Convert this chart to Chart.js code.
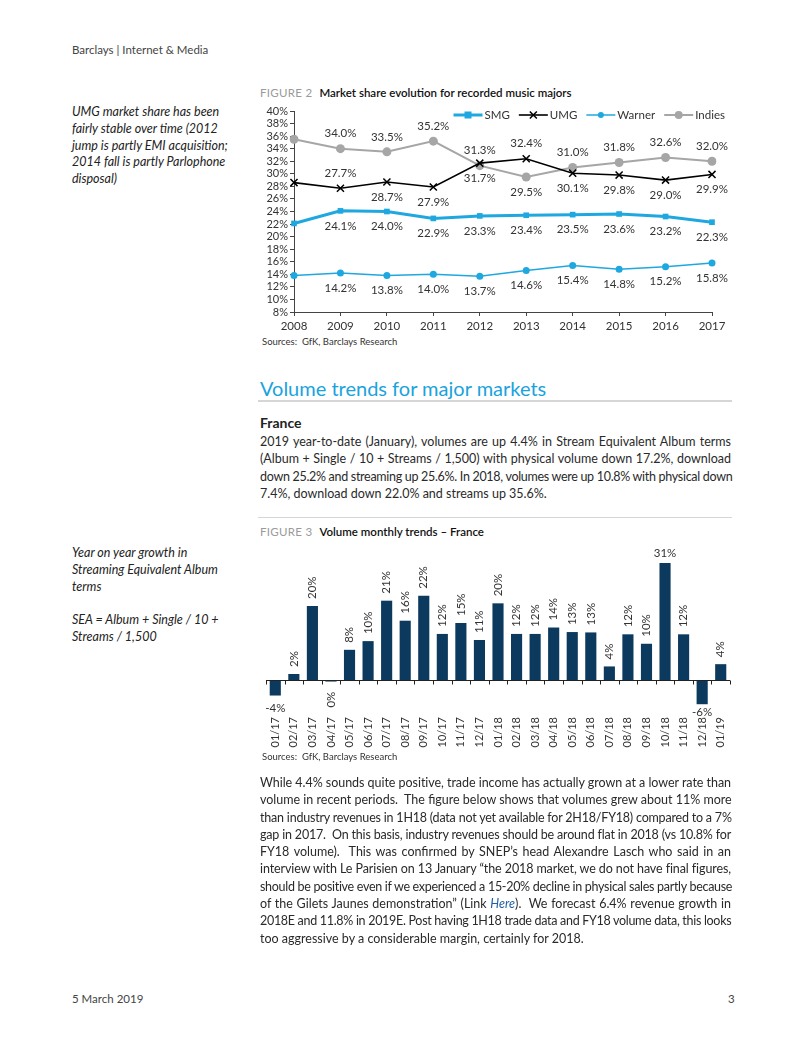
<!DOCTYPE html>
<html>
<head>
<meta charset="utf-8">
<script src="https://cdn.jsdelivr.net/npm/chart.js@4.4.1/dist/chart.umd.min.js"></script>
<style>
  html, body { margin: 0; padding: 0; background: #fff; }
  body { width: 802px; height: 1037px; position: relative; font-family: Lato, "Open Sans", sans-serif; color: #222; overflow: hidden; }
  .abs { position: absolute; }
  .hdr { left: 72px; top: 43px; font-size: 11.5px; color: #444; }
  .side { left: 72px; width: 180px; font-size: 12.5px; font-style: italic; line-height: 16.8px; color: #222; }
  .figt { left: 260px; font-size: 11.5px; line-height: 15px; white-space: nowrap; }
  .figt .n { color: #9a9a9a; letter-spacing: 0.3px; margin-right: 7px; }
  .figt .t { color: #111; font-weight: 600; }
  .src { left: 262px; font-size: 9.5px; color: #333; }
  .rule { left: 258px; width: 474px; background: #d6d6d6; }
  .para { left: 260px; width: 471px; font-size: 12.5px; line-height: 17.3px; color: #2a2a2a; }
  .para div { white-space: nowrap; }
  .para .j { text-align: justify; text-align-last: justify; }
  h2 { margin: 0; font-weight: 400; font-size: 20px; line-height: 24px; color: #1aa3dd; }
  h3 { margin: 0; font-weight: 700; font-size: 14px; line-height: 18px; color: #222; }
  .foot { top: 992px; font-size: 11.5px; color: #444; }
</style>
</head>
<body>

<div class="abs hdr">Barclays | Internet &amp; Media</div>

<div class="abs side" style="top:104px">UMG market share has been<br>fairly stable over time (2012<br>jump is partly EMI acquisition;<br>2014 fall is partly Parlophone<br>disposal)</div>

<div class="abs figt" style="top:85px"><span class="n">FIGURE 2</span><span class="t">Market share evolution for recorded music majors</span></div>
<canvas id="share" class="abs" width="480" height="232" style="left:258px;top:100px"></canvas>
<div class="abs src" style="top:336px">Sources:&nbsp; GfK, Barclays Research</div>

<h2 class="abs" style="left:260px;top:376px">Volume trends for major markets</h2>
<div class="abs rule" style="top:400px;height:2px"></div>
<h3 class="abs" style="left:260px;top:414px">France</h3>

<div class="abs para" style="top:433px">
  <div class="j">2019 year-to-date (January), volumes are up 4.4% in Stream Equivalent Album terms</div>
  <div class="j">(Album + Single / 10 + Streams / 1,500) with physical volume down 17.2%, download</div>
  <div class="j">down 25.2% and streaming up 25.6%. In 2018, volumes were up 10.8% with physical down</div>
  <div>7.4%, download down 22.0% and streams up 35.6%.</div>
</div>

<div class="abs rule" style="top:517px;height:1px"></div>
<div class="abs figt" style="top:524px"><span class="n">FIGURE 3</span><span class="t">Volume monthly trends – France</span></div>

<div class="abs side" style="top:545px">Year on year growth in<br>Streaming Equivalent Album<br>terms<br><br>SEA = Album + Single / 10 +<br>Streams / 1,500</div>

<canvas id="volume" class="abs" width="480" height="220" style="left:258px;top:540px"></canvas>
<div class="abs src" style="top:751px">Sources:&nbsp; GfK, Barclays Research</div>

<div class="abs para" style="top:774px">
  <div class="j">While 4.4% sounds quite positive, trade income has actually grown at a lower rate than</div>
  <div class="j">volume in recent periods.&nbsp; The figure below shows that volumes grew about 11% more</div>
  <div class="j">than industry revenues in 1H18 (data not yet available for 2H18/FY18) compared to a 7%</div>
  <div class="j">gap in 2017.&nbsp; On this basis, industry revenues should be around flat in 2018 (vs 10.8% for</div>
  <div class="j">FY18 volume).&nbsp; This was confirmed by SNEP’s head Alexandre Lasch who said in an</div>
  <div class="j">interview with Le Parisien on 13 January “the 2018 market, we do not have final figures,</div>
  <div class="j">should be positive even if we experienced a 15-20% decline in physical sales partly because</div>
  <div class="j">of the Gilets Jaunes demonstration” (Link <i style="color:#1f5fa8">Here</i>).&nbsp; We forecast 6.4% revenue growth in</div>
  <div class="j">2018E and 11.8% in 2019E. Post having 1H18 trade data and FY18 volume data, this looks</div>
  <div>too aggressive by a considerable margin, certainly for 2018.</div>
</div>

<div class="abs foot" style="left:72px">5 March 2019</div>
<div class="abs foot" style="left:728px">3</div>

<script>
// --- Figure 2 data ---
const years = ['2008', '2009', '2010', '2011', '2012', '2013', '2014', '2015', '2016', '2017'];
const smg    = [22.1, 24.1, 24.0, 22.9, 23.3, 23.4, 23.5, 23.6, 23.2, 22.3];
const umg    = [28.6, 27.7, 28.7, 27.9, 31.7, 32.4, 30.1, 29.8, 29.0, 29.9];
const warner = [13.8, 14.2, 13.8, 14.0, 13.7, 14.6, 15.4, 14.8, 15.2, 15.8];
const indies = [35.5, 34.0, 33.5, 35.2, 31.3, 29.5, 31.0, 31.8, 32.6, 32.0];
const shareTicks = [8, 40, 2]; // min, max, step

// where each value label sits: a = above, b = below, '' = no label
const smgSide    = ['', 'b', 'b', 'b', 'b', 'b', 'b', 'b', 'b', 'b'];
const umgSide    = ['', 'a', 'b', 'b', 'b', 'a', 'b', 'b', 'b', 'b'];
const warnerSide = ['', 'b', 'b', 'b', 'b', 'b', 'b', 'b', 'b', 'b'];
const indiesSide = ['', 'a', 'a', 'a', 'a', 'b', 'a', 'a', 'a', 'a'];

// --- Figure 3 data ---
const months = ['01/17', '02/17', '03/17', '04/17', '05/17', '06/17', '07/17', '08/17', '09/17', '10/17', '11/17', '12/17',
                '01/18', '02/18', '03/18', '04/18', '05/18', '06/18', '07/18', '08/18', '09/18', '10/18', '11/18', '12/18', '01/19'];
const growth = [-4.1, 1.6, 19.6, -0.4, 8.0, 10.3, 21.0, 15.7, 22.3, 12.2, 15.1, 10.6,
                20.3, 12.2, 12.2, 13.9, 12.7, 12.6, 3.6, 12.1, 9.6, 31.0, 12.1, -6.4, 4.2];

Chart.defaults.font.family = 'Lato, "Open Sans", sans-serif';
Chart.defaults.color = '#333';

const BLUE = '#1fa8e0';
const GREY = '#a6a6a6';
const NAVY = '#0c3a5e';

// value labels for the line chart
const shareLabels = {
    id: 'shareLabels',
    afterDatasetsDraw(chart) {
        const ctx = chart.ctx;
        const sides = [smgSide, umgSide, warnerSide, indiesSide];
        ctx.save();
        ctx.font = '11.5px Lato, sans-serif';
        ctx.fillStyle = '#333';
        ctx.textAlign = 'center';
        ctx.textBaseline = 'middle';
        chart.data.datasets.forEach((ds, i) => {
            chart.getDatasetMeta(i).data.forEach((pt, j) => {
                const side = sides[i][j];
                if (!side) return;
                ctx.fillText(ds.data[j].toFixed(1) + '%', pt.x, pt.y + (side === 'a' ? -15 : 15));
            });
        });
        ctx.restore();
    }
};

// excel-like legend: line with marker, top right
const shareLegend = {
    id: 'shareLegend',
    afterDraw(chart) {
        const ctx = chart.ctx;
        const y = chart.chartArea.top + 4;
        ctx.save();
        ctx.font = '11.5px Lato, sans-serif';
        ctx.textBaseline = 'middle';
        ctx.textAlign = 'left';
        const lineLen = 29, gap = 2, space = 9;
        const items = chart.data.datasets;
        let total = 0;
        items.forEach(ds => { total += lineLen + gap + ctx.measureText(ds.label).width + space; });
        let x = chart.chartArea.right + 13 - total + space;
        items.forEach(ds => {
            ctx.strokeStyle = ds.borderColor;
            ctx.lineWidth = ds.borderWidth;
            ctx.beginPath();
            ctx.moveTo(x, y); ctx.lineTo(x + lineLen, y);
            ctx.stroke();
            const cx = x + lineLen / 2;
            ctx.fillStyle = ds.borderColor;
            if (ds.pointStyle === 'rect') {
                ctx.fillRect(cx - 3.5, y - 3.5, 7, 7);
            } else if (ds.pointStyle === 'crossRot') {
                ctx.lineWidth = 1.5;
                ctx.beginPath();
                ctx.moveTo(cx - 3.5, y - 3.5); ctx.lineTo(cx + 3.5, y + 3.5);
                ctx.moveTo(cx + 3.5, y - 3.5); ctx.lineTo(cx - 3.5, y + 3.5);
                ctx.stroke();
            } else {
                ctx.beginPath();
                ctx.arc(cx, y, ds.pointRadius - 0.5, 0, Math.PI * 2);
                ctx.fill();
            }
            ctx.fillStyle = '#333';
            ctx.fillText(ds.label, x + lineLen + gap, y);
            x += lineLen + gap + ctx.measureText(ds.label).width + space;
        });
        ctx.restore();
    }
};

new Chart(document.getElementById('share'), {
    type: 'line',
    data: {
        labels: years,
        datasets: [
            { label: 'SMG', data: smg, borderColor: BLUE, backgroundColor: BLUE, borderWidth: 3,
              pointStyle: 'rect', pointRadius: 4, pointBorderWidth: 0 },
            { label: 'UMG', data: umg, borderColor: '#000', backgroundColor: '#000', borderWidth: 1.6,
              pointStyle: 'crossRot', pointRadius: 5, pointBorderWidth: 1.5 },
            { label: 'Warner', data: warner, borderColor: BLUE, backgroundColor: BLUE, borderWidth: 1.5,
              pointStyle: 'circle', pointRadius: 3.5, pointBorderWidth: 0 },
            { label: 'Indies', data: indies, borderColor: GREY, backgroundColor: GREY, borderWidth: 2,
              pointStyle: 'circle', pointRadius: 4.5, pointBorderWidth: 0 }
        ]
    },
    options: {
        responsive: false,
        animation: false,
        layout: { padding: { top: 11, right: 26, left: 0, bottom: 0 } },
        plugins: { legend: { display: false }, tooltip: { enabled: false } },
        scales: {
            x: {
                grid: { drawOnChartArea: false, tickLength: 4, color: '#444' },
                border: { color: '#444' },
                ticks: { font: { size: 11.5 }, color: '#333', padding: 3, maxRotation: 0 },
                afterFit: s => { s.height = 20; }
            },
            y: {
                min: shareTicks[0], max: shareTicks[1],
                grid: { drawOnChartArea: false, tickLength: 4, color: '#444' },
                border: { color: '#444' },
                ticks: { stepSize: shareTicks[2], autoSkip: false, font: { size: 11 }, color: '#333', padding: 2,
                         callback: v => v + '%' },
                afterFit: s => { s.width = 36; }
            }
        }
    },
    plugins: [shareLabels, shareLegend]
});

// zero line with tick marks between months
const zeroAxis = {
    id: 'zeroAxis',
    afterDatasetsDraw(chart) {
        const { ctx, chartArea, scales: { x, y } } = chart;
        const y0 = Math.round(y.getPixelForValue(0)) + 0.5;
        const step = x.getPixelForValue(1) - x.getPixelForValue(0);
        ctx.save();
        ctx.strokeStyle = '#222';
        ctx.lineWidth = 1;
        ctx.beginPath();
        ctx.moveTo(chartArea.left, y0);
        ctx.lineTo(chartArea.right, y0);
        for (let i = 0; i <= months.length; i++) {
            const px = Math.round(x.getPixelForValue(0) - step / 2 + i * step) + 0.5;
            ctx.moveTo(px, y0);
            ctx.lineTo(px, y0 + 4);
        }
        ctx.stroke();
        ctx.restore();
    }
};

// value labels for the bars (rotated like the excel original)
const volLabels = {
    id: 'volLabels',
    afterDatasetsDraw(chart) {
        const { ctx, chartArea } = chart;
        const meta = chart.getDatasetMeta(0);
        ctx.save();
        ctx.font = '11.5px Lato, sans-serif';
        ctx.fillStyle = '#333';
        meta.data.forEach((bar, i) => {
            const v = growth[i];
            const txt = Math.round(v) + '%';
            const w = ctx.measureText(txt).width;
            if (v >= 0) {
                if (bar.y - 7 - w < chartArea.top) {
                    ctx.textAlign = 'center';
                    ctx.textBaseline = 'bottom';
                    ctx.fillText(txt, bar.x, bar.y - 4);
                } else {
                    ctx.save();
                    ctx.translate(bar.x, bar.y - 7);
                    ctx.rotate(-Math.PI / 2);
                    ctx.textAlign = 'left';
                    ctx.textBaseline = 'middle';
                    ctx.fillText(txt, 0, 0);
                    ctx.restore();
                }
            } else if (Math.round(v) === 0) {
                ctx.save();
                ctx.translate(bar.x, bar.y + 26);
                ctx.rotate(-Math.PI / 2);
                ctx.textAlign = 'left';
                ctx.textBaseline = 'middle';
                ctx.fillText(txt, 0, 0);
                ctx.restore();
            } else {
                ctx.textAlign = 'center';
                ctx.textBaseline = 'middle';
                ctx.fillText(txt, bar.x, Math.max(bar.y + 8, chartArea.bottom));
            }
        });
        ctx.restore();
    }
};

new Chart(document.getElementById('volume'), {
    type: 'bar',
    data: {
        labels: months,
        datasets: [{ data: growth, backgroundColor: NAVY, categoryPercentage: 1, barPercentage: 0.6 }]
    },
    options: {
        responsive: false,
        animation: false,
        layout: { padding: { top: 4, right: 8, left: 8, bottom: 0 } },
        plugins: { legend: { display: false }, tooltip: { enabled: false } },
        scales: {
            x: {
                grid: { display: false },
                border: { display: false },
                ticks: { minRotation: 90, maxRotation: 90, autoSkip: false, font: { size: 11 }, color: '#333', padding: 1 },
                afterFit: s => { s.height = 52; }
            },
            y: { display: false, min: -7.4, max: 36 }
        }
    },
    plugins: [zeroAxis, volLabels]
});

// squeeze any justified line that is wider than the column
document.querySelectorAll('.para .j').forEach(el => {
    let ls = 0;
    while (el.scrollWidth > el.clientWidth + 1 && ls > -1) {
        ls -= 0.05;
        el.style.letterSpacing = ls + 'px';
    }
});
</script>
</body>
</html>
